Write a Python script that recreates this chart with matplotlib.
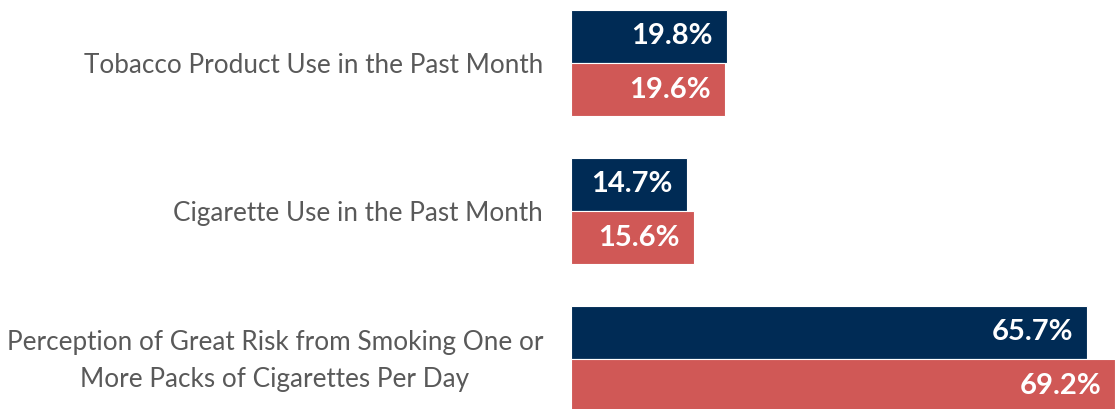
import matplotlib
matplotlib.use("Agg")
import matplotlib.pyplot as plt
import matplotlib.transforms as mtransforms
import numpy as np

# data
categories = [
    "Tobacco Product Use in the Past Month",
    "Cigarette Use in the Past Month",
    "Perception of Great Risk from Smoking One or\nMore Packs of Cigarettes Per Day",
]
series_a = [19.8, 14.7, 65.7]
series_b = [19.6, 15.6, 69.2]

navy = "#002B55"
red = "#D05856"

plt.rcParams['font.family'] = ['Lato', 'DejaVu Sans']

fig = plt.figure(figsize=(11.15, 4.09), dpi=100)
ax = fig.add_axes([571 / 1115, 0, 1 - 571 / 1115, 1])

y = np.arange(len(categories))
h = 0.36

bars_a = ax.barh(y - h / 2, series_a, height=h, color=navy, edgecolor="white", linewidth=0.8)
bars_b = ax.barh(y + h / 2, series_b, height=h, color=red, edgecolor="white", linewidth=0.8)

# value labels inside the bar ends
for bars, vals in [(bars_a, series_a), (bars_b, series_b)]:
    for b, v in zip(bars, vals):
        ax.annotate("{:.1f}%".format(v), (b.get_width(), b.get_y() + b.get_height() / 2),
                    xytext=(-10, 0), textcoords="offset points",
                    ha="right", va="center", color="white", fontsize=21, fontweight="bold")

ax.set_xlim(0, 69.2)
ax.set_ylim(2.338, -0.426)
ax.set_yticks(y)
ax.set_yticklabels(categories, fontsize=18.8, color="#595959",
                   multialignment="center", linespacing=1.6)
ax.tick_params(axis="y", length=0, pad=20)
ax.set_xticks([])
for s in ax.spines.values():
    s.set_visible(False)

# nudge the two-line label up a little
lab = ax.get_yticklabels()[2]
lab.set_transform(lab.get_transform() + mtransforms.ScaledTranslation(0, 5 / 72, fig.dpi_scale_trans))

fig.savefig("out.png", dpi=100)
